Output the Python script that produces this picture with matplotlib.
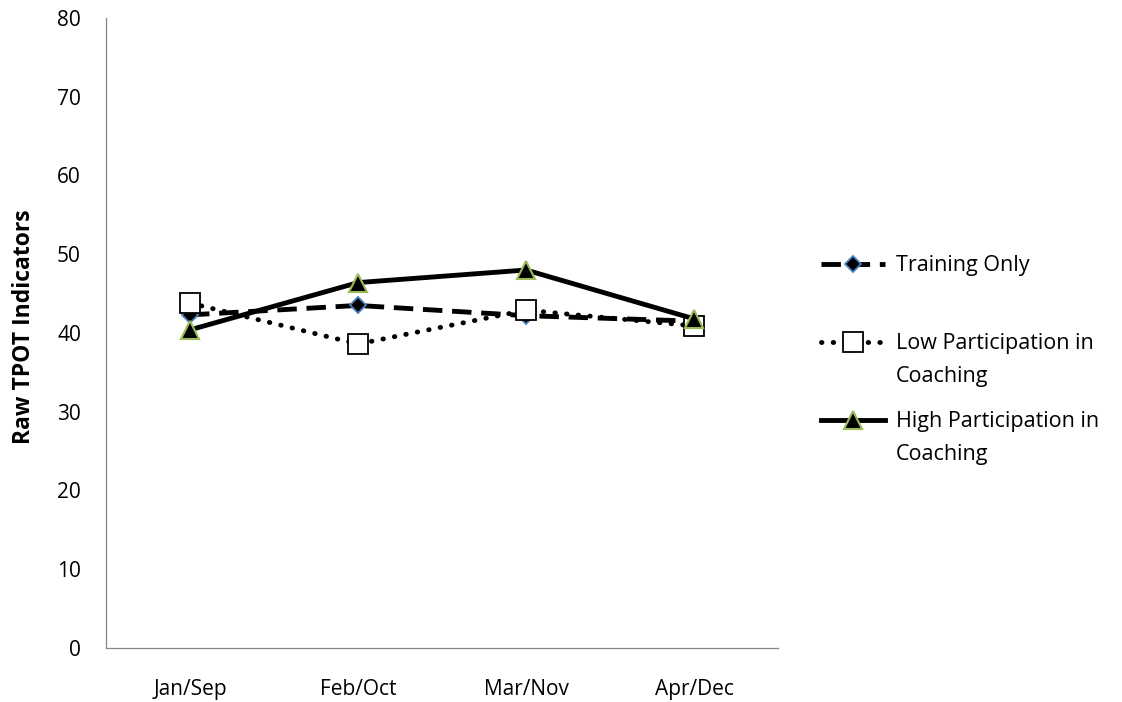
import matplotlib
matplotlib.use("Agg")
import matplotlib.pyplot as plt

# ── Data ─────────────────────────────────────────
months = ["Jan/Sep", "Feb/Oct", "Mar/Nov", "Apr/Dec"]
training_only = [42.3, 43.5, 42.2, 41.5]
low_participation = [43.8, 38.6, 42.9, 40.9]
high_participation = [40.4, 46.4, 48.0, 41.8]
series_labels = ["Training Only", "Low Participation in\nCoaching",
                 "High Participation in\nCoaching"]

plt.rcParams["font.family"] = ["Open Sans", "DejaVu Sans"]

fig = plt.figure(figsize=(11.22, 7.02), dpi=100)
ax = fig.add_axes([106 / 1122, 54 / 702, 672 / 1122, 630 / 702])

x = range(len(months))
ax.plot(x, training_only, color="black", lw=3.5, ls=(0, (4, 2)),
        marker="D", ms=8, mfc="black", mec="#4a7ebb", mew=1.3)
ax.plot(x, low_participation, color="black", lw=3.5, ls=(0, (0.1, 2.3)),
        dash_capstyle="round", marker="s", ms=14, mfc="white", mec="black",
        mew=1.3)
ax.plot(x, high_participation, color="black", lw=3.5, ls="-",
        marker="^", ms=13, mfc="black", mec="#9bbb59", mew=1.5)

ax.set_xlim(-0.5, len(months) - 0.5)
ax.set_ylim(0, 80)
ax.set_yticks(range(0, 81, 10))
ax.set_xticks(list(x))
ax.set_xticklabels(months)
ax.tick_params(axis="both", length=0, labelsize=15)
ax.tick_params(axis="x", pad=22)
ax.tick_params(axis="y", pad=18)
for s in ("top", "right"):
    ax.spines[s].set_visible(False)
for s in ("left", "bottom"):
    ax.spines[s].set_color("#868686")
    ax.spines[s].set_linewidth(0.9)

ax.set_ylabel("Raw TPOT Indicators", fontsize=16.5, fontweight="bold")
ax.yaxis.set_label_coords(-0.104, 0.51)

# legend: first line of each label next to its handle, the rest underneath
first_lines = [lab.split("\n")[0] for lab in series_labels]
leg = ax.legend(ax.get_lines(), first_lines, loc="center left",
                bbox_to_anchor=(1.035, 0.483), frameon=False, fontsize=15.5,
                handlelength=3.0, labelspacing=2.65, handletextpad=0.5)
fig.canvas.draw()
inv = fig.transFigure.inverted()
for lab, txt in zip(series_labels, leg.get_texts()):
    rest = lab.split("\n")[1:]
    if not rest:
        continue
    bb = txt.get_window_extent()
    x0, y0 = inv.transform((bb.x0, bb.y0))
    fig.text(x0, y0 - 33 / 702, "\n".join(rest), fontsize=15.5,
             ha="left", va="bottom")

fig.savefig("out.png", dpi=100)
